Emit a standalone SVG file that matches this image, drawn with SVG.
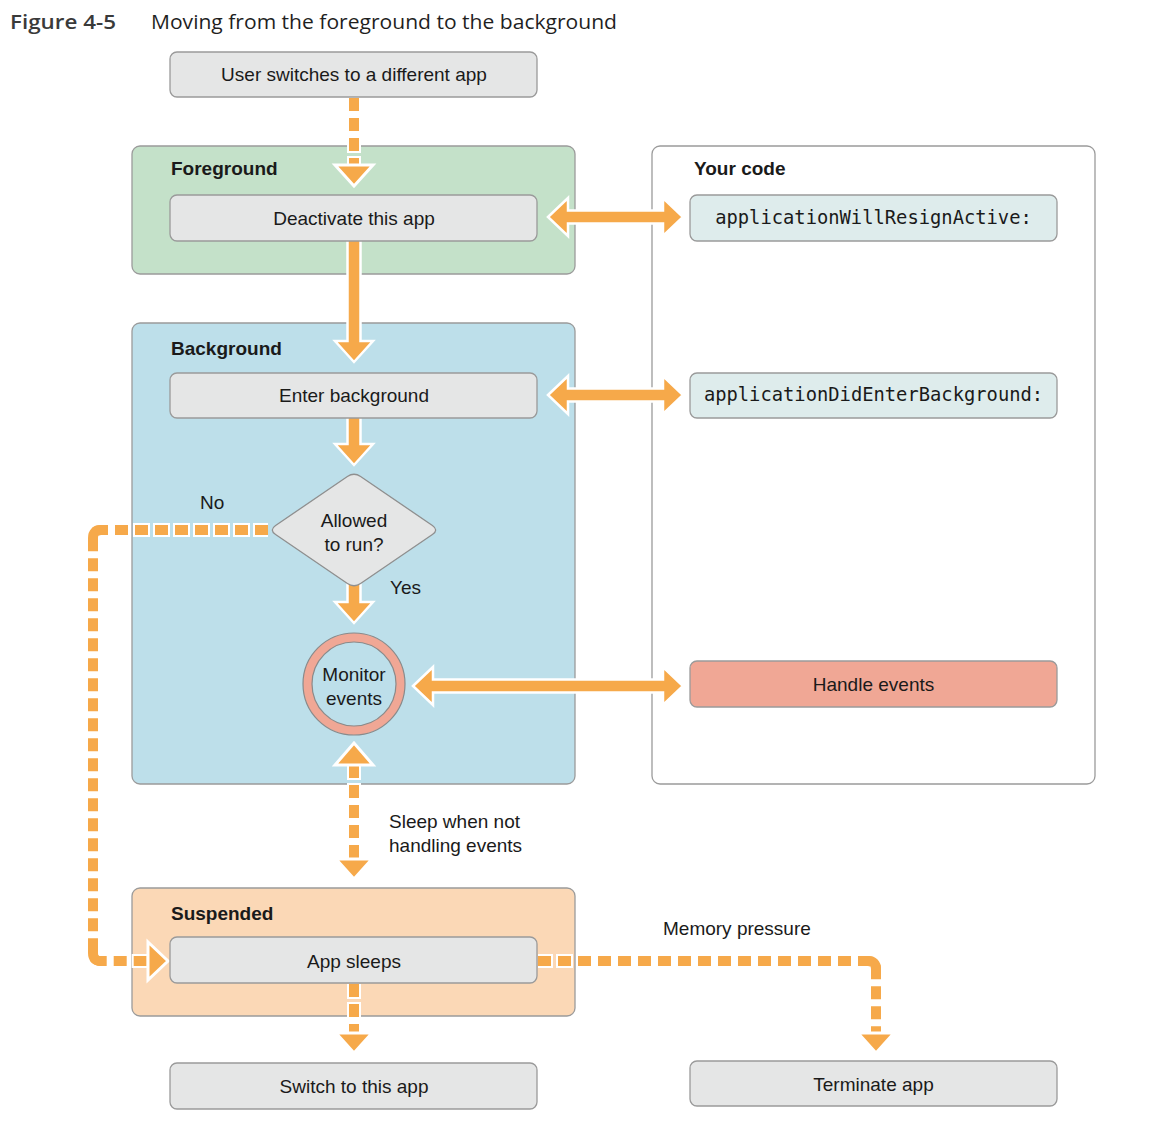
<svg xmlns="http://www.w3.org/2000/svg" width="1162" height="1128" viewBox="0 0 1162 1128">
<style>
.panel{stroke:#9b9b9b;stroke-width:1.3}
.box{fill:#e5e6e6;stroke:#9a9a9a;stroke-width:1.3}
.code{fill:#deecec;stroke:#9a9a9a;stroke-width:1.3}
.t{font-family:"Liberation Sans",Arial,sans-serif;font-size:19px;fill:#1a1a1a}
.c{text-anchor:middle}
.b{font-weight:bold}
.m{font-family:"DejaVu Sans Mono","Liberation Mono",monospace;font-size:18.8px;fill:#1a1a1a;text-anchor:middle}
.solid{fill:#f6a94a;stroke:#fff;stroke-width:2.5;stroke-linejoin:miter}
.halo{fill:none;stroke:#fff;stroke-width:14;stroke-dasharray:17 3;stroke-dashoffset:2}
.dash{fill:none;stroke:#f6a94a;stroke-width:10;stroke-dasharray:13 7}
.corner{fill:none;stroke:#f6a94a;stroke-width:10}
.head{fill:#f6a94a;stroke:#fff;stroke-width:3;stroke-linejoin:miter}
</style>
<rect width="1162" height="1128" fill="#fff"/>
<g id="title">
<text x="10" y="28.5" font-family="'Open Sans',sans-serif" font-weight="600" font-size="20.5" fill="#3a3a3a" textLength="106" lengthAdjust="spacingAndGlyphs">Figure 4-5</text>
<text x="151" y="28.5" font-family="'Open Sans',sans-serif" font-size="20.5" fill="#1f1f1f" textLength="466" lengthAdjust="spacingAndGlyphs">Moving from the foreground to the background</text>
</g>
<g id="panel-foreground"><rect class="panel" x="132" y="146" width="443" height="128" rx="8" fill="#c4e1c9"/><text class="t b" x="171" y="175">Foreground</text></g>
<g id="panel-background"><rect class="panel" x="132" y="323" width="443" height="461" rx="8" fill="#bddfea"/><text class="t b" x="171" y="355">Background</text></g>
<g id="panel-suspended"><rect class="panel" x="132" y="888" width="443" height="128" rx="8" fill="#fbd8b6"/><text class="t b" x="171" y="920">Suspended</text></g>
<g id="panel-yourcode"><rect class="panel" x="652" y="146" width="443" height="638" rx="8" fill="#fff"/><text class="t b" x="694" y="175">Your code</text></g>
<g id="connectors">
<path class="solid" d="M347.5 236 H360.5 V341 H373 L354 362 L335 341 H347.5 Z"/>
<path class="solid" d="M347.5 413 H360.5 V444 H373 L354 465 L335 444 H347.5 Z"/>
<path class="solid" d="M347.5 580 H360.5 V602 H373 L354 623 L335 602 H347.5 Z"/>
<path class="solid" d="M548 217 L568 198 V210.5 H663 V198 L683 217 L663 236 V223.5 H568 V236 Z"/>
<path class="solid" d="M548 395 L568 376 V388.5 H663 V376 L683 395 L663 414 V401.5 H568 V414 Z"/>
<path class="solid" d="M413 686 L433 667 V679.5 H663 V667 L683 686 L663 705 V692.5 H433 V705 Z"/>
<path class="halo" d="M354 98 V165"/><path class="dash" d="M354 98 V165"/>
<path class="head" d="M335 165 H373 L354 186 Z"/>
<path class="halo" d="M268 530 H101 Q93 530 93 538 V953 Q93 961 101 961 H149"/><path class="dash" d="M268 530 H101 Q93 530 93 538 V953 Q93 961 101 961 H149"/>
<path class="corner" d="M106 530 H101 Q93 530 93 538 V543"/>
<path class="corner" d="M93 948 V953 Q93 961 101 961 H106"/>
<path class="head" d="M148 942 L168 961 L148 980 Z"/>
<path class="halo" d="M354 765 V859"/><path class="dash" d="M354 765 V859"/>
<path class="head" d="M335 765 L354 743 L373 765 Z"/>
<path class="head" d="M336 859 L354 879 L372 859 Z"/>
<path class="halo" d="M354 984 V1034"/><path class="dash" d="M354 984 V1034"/>
<path class="head" d="M336 1033 L354 1053 L372 1033 Z"/>
<path class="halo" d="M538 961 H868 Q876 961 876 969 V1034"/><path class="dash" d="M538 961 H868 Q876 961 876 969 V1034"/>
<path class="corner" d="M863 961 H868 Q876 961 876 969 V974"/>
<path class="head" d="M858 1033 L876 1053 L894 1033 Z"/>
</g>
<g id="user-switches"><rect class="box" x="170" y="52" width="367" height="45" rx="7"/><text class="t c" x="354" y="81">User switches to a different app</text></g>
<g id="deactivate"><rect class="box" x="170" y="195" width="367" height="46" rx="7"/><text class="t c" x="354" y="225">Deactivate this app</text></g>
<g id="will-resign"><rect class="code" x="690" y="195" width="367" height="46" rx="7"/><text class="m" x="873.5" y="224">applicationWillResignActive:</text></g>
<g id="enter-background"><rect class="box" x="170" y="373" width="367" height="45" rx="7"/><text class="t c" x="354" y="402">Enter background</text></g>
<g id="did-enter-background"><rect class="code" x="690" y="373" width="367" height="45" rx="7"/><text class="m" x="873.5" y="401">applicationDidEnterBackground:</text></g>
<g id="allowed"><path d="M347.4 476.5 Q354 472 360.6 476.5 L432.4 525.5 Q439 530 432.4 534.5 L360.6 583.5 Q354 588 347.4 583.5 L275.6 534.5 Q269 530 275.6 525.5 Z" fill="#e5e6e6" stroke="#8f8f8f" stroke-width="1.3"/>
<text class="t c" x="354" y="527">Allowed</text><text class="t c" x="354" y="551">to run?</text></g>
<g id="label-no"><text class="t" x="200" y="509">No</text></g>
<g id="label-yes"><text class="t" x="390" y="594">Yes</text></g>
<g id="monitor"><circle cx="354" cy="684" r="51" fill="#f0a795" stroke="#8a8a8a" stroke-width="1.2"/><circle cx="354" cy="684" r="42" fill="#bddfea" stroke="#8a8a8a" stroke-width="1.2"/>
<text class="t c" x="354" y="681">Monitor</text><text class="t c" x="354" y="705">events</text></g>
<g id="handle-events"><rect x="690" y="661" width="367" height="46" rx="7" fill="#f0a795" stroke="#9a9a9a" stroke-width="1.3"/><text class="t c" x="873.5" y="691">Handle events</text></g>
<g id="label-sleep"><text class="t" x="389" y="828">Sleep when not</text><text class="t" x="389" y="852">handling events</text></g>
<g id="app-sleeps"><rect class="box" x="170" y="937" width="367" height="46" rx="7"/><text class="t c" x="354" y="968">App sleeps</text></g>
<g id="label-memory"><text class="t" x="663" y="935">Memory pressure</text></g>
<g id="switch-to-app"><rect class="box" x="170" y="1063" width="367" height="46" rx="7"/><text class="t c" x="354" y="1093">Switch to this app</text></g>
<g id="terminate"><rect class="box" x="690" y="1061" width="367" height="45" rx="7"/><text class="t c" x="873.5" y="1091">Terminate app</text></g>
</svg>
